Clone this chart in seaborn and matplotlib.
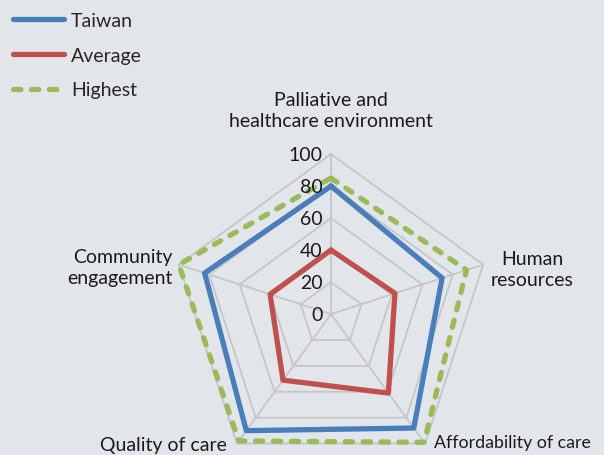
import numpy as np
import pandas as pd
import matplotlib
matplotlib.use("Agg")
import matplotlib.pyplot as plt
import seaborn as sns

categories = ["Palliative and\nhealthcare environment", "Human\nresources",
              "Affordability of care", "Quality of care", "Community\nengagement"]
taiwan = [80, 73, 88, 90, 83]
average = [40, 42, 61, 51, 40]
highest = [85, 89, 99, 98, 100]
series_names = ["Taiwan", "Average", "Highest"]
ticks = [0, 20, 40, 60, 80, 100]

BG = "#e2e6ea"
sns.set_theme(style="white")
plt.rcParams["font.family"] = ["Lato", "DejaVu Sans"]

fig = plt.figure(figsize=(6.04, 4.56), dpi=100, facecolor=BG)
ax = fig.add_axes([0.283, -0.042, 0.530, 0.702], projection="polar")
ax.set_facecolor("none")
ax.set_theta_offset(np.pi / 2)
ax.set_theta_direction(-1)
ax.set_ylim(0, 100)
ax.grid(False)
ax.spines["polar"].set_visible(False)
ax.set_xticks([])
ax.set_yticks([])

n = len(categories)
angles = np.linspace(0, 2 * np.pi, n, endpoint=False)
closed = np.append(angles, angles[0])

# grid pentagons and spokes
for t in ticks[1:]:
    ax.plot(closed, [t] * (n + 1), color="#c4c6c8", lw=1.3, zorder=1, clip_on=False)
for a in angles:
    ax.plot([a, a], [0, 100], color="#c4c6c8", lw=1.3, zorder=1, clip_on=False)

def frame(vals, name):
    return pd.DataFrame({"angle": closed, "value": list(vals) + [vals[0]], "series": name})

styles = {
    "Taiwan": dict(color="#4a7ebb", lw=3.8, ls="-"),
    "Average": dict(color="#c0504d", lw=3.8, ls="-"),
    "Highest": dict(color="#9bbb59", lw=3.8, ls=(0, (1.4, 2.0))),
}
order = [("Highest", highest), ("Taiwan", taiwan), ("Average", average)]
zs = {"Highest": 3, "Taiwan": 4, "Average": 5}
for name, vals in order:
    st = styles[name]
    sns.lineplot(data=frame(vals, name), x="angle", y="value", sort=False, estimator=None,
                 ax=ax, color=st["color"], linewidth=st["lw"], linestyle=st["ls"],
                 dash_capstyle="round", solid_capstyle="round", label=name,
                 zorder=zs[name], clip_on=False)
ax.set_xlabel("")
ax.set_ylabel("")
ax.set_ylim(0, 100)

FS = 14
# radial tick labels
for t in ticks:
    ax.annotate(str(t), xy=(0, t), xytext=(-6, 0), textcoords="offset points",
                ha="right", va="center", fontsize=FS, color="#1a1a1a", zorder=6)

# category labels (figure pixel positions)
W, H = 604, 456
def ftext(x, y, s, ha, fs=FS):
    fig.text(x / W, 1 - y / H, s, ha=ha, va="center", fontsize=fs,
             color="#1a1a1a", linespacing=1.3)
ftext(331, 111, categories[0], "center")
ftext(532, 270, categories[1], "center")
ftext(434, 443, categories[2], "left", fs=12.8)
ftext(163, 446, categories[3], "center")
ftext(173, 268, categories[4], "right")

# legend
handles, labels = ax.get_legend_handles_labels()
hmap = dict(zip(labels, handles))
leg = fig.legend([hmap[s] for s in series_names], series_names,
                 loc="upper left", bbox_to_anchor=(0.0, 1.0), frameon=False,
                 fontsize=FS, handlelength=2.65, handletextpad=0.35,
                 labelspacing=0.92, borderaxespad=0.25)
if ax.get_legend():
    ax.get_legend().remove()

fig.savefig("out.png", dpi=100, facecolor=BG)
